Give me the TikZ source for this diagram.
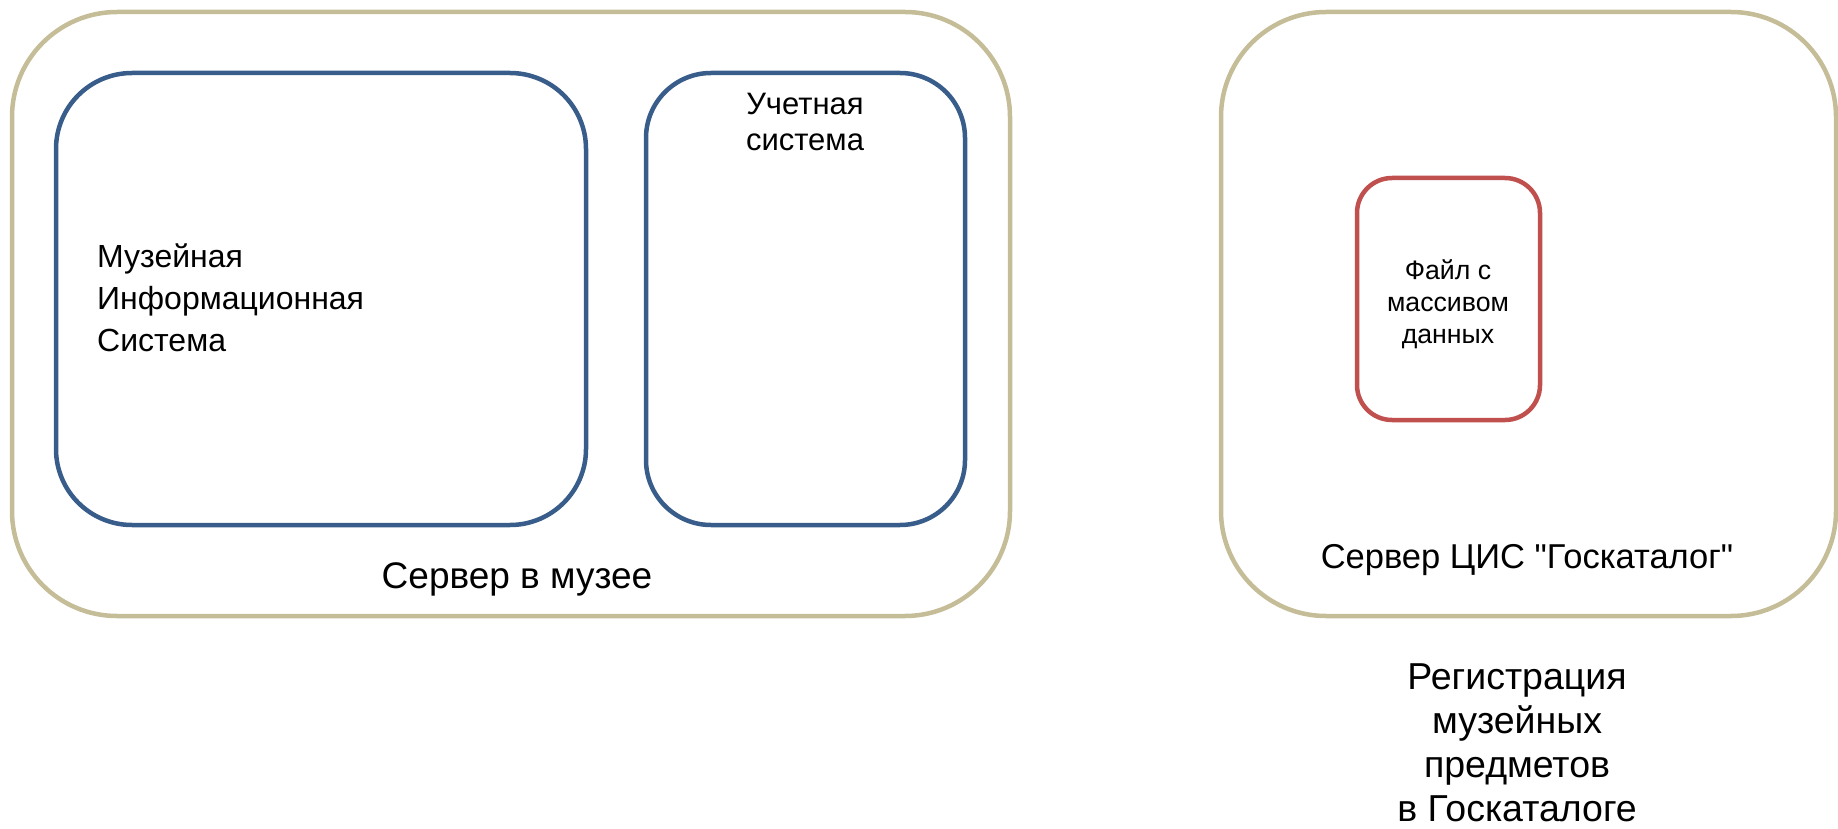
\documentclass[tikz,border=0pt]{standalone}
\usepackage{fontspec}
\setmainfont{Liberation Sans}[Ligatures=TeXOff]
\definecolor{tanline}{HTML}{C4BD97}
\definecolor{blueline}{HTML}{385D8A}
\definecolor{redline}{HTML}{C0504D}
\begin{document}
\begin{tikzpicture}[x=1pt,y=-1pt,
  outerbox/.style={draw=tanline,line width=4.5pt,rounded corners=105pt,inner sep=0pt},
  bluebox/.style={draw=blueline,line width=4.5pt,inner sep=0pt},
  redbox/.style={draw=redline,line width=4.5pt,rounded corners=35pt,inner sep=0pt},
  txt/.style={inner sep=0pt,font=\fontsize{34}{42}\selectfont,align=center}]
\useasboundingbox (0,0) rectangle (1838,829);
% boxes
\node (srvmus) [outerbox,minimum width=998pt,minimum height=604pt] at (511,314) {};
\node (mis) [bluebox,rounded corners=76pt,minimum width=530pt,minimum height=452pt] at (321,299) {};
\node (uch) [bluebox,rounded corners=65pt,minimum width=319pt,minimum height=452pt] at (805.5,299) {};
\node (srvgk) [outerbox,minimum width=615pt,minimum height=604pt] at (1528.5,314) {};
\node (file) [redbox,minimum width=183pt,minimum height=242pt] at (1448.5,299) {};
% texts
\node (mistxt) [txt,align=left,anchor=west,font=\fontsize{32}{42}\selectfont] at (97,298) {Музейная\\Информационная\\Система};
\node (uchtxt) [txt,font=\fontsize{31}{35.5}\selectfont] at (805,122) {Учетная\\система};
\node (filetxt) [txt,font=\fontsize{26.7}{32}\selectfont] at (1448,304) {Файл с\\массивом\\данных};
\node (srvmustxt) [txt,font=\fontsize{37}{44}\selectfont] at (517,579) {Сервер в музее};
\node (srvgktxt) [txt,font=\fontsize{34.5}{44}\selectfont] at (1527,560) {Сервер ЦИС "Госкаталог"};
\node (regtxt) [txt,font=\fontsize{37.5}{44}\selectfont] at (1517,743) {Регистрация\\музейных\\предметов\\в Госкаталоге};
\end{tikzpicture}
\end{document}
